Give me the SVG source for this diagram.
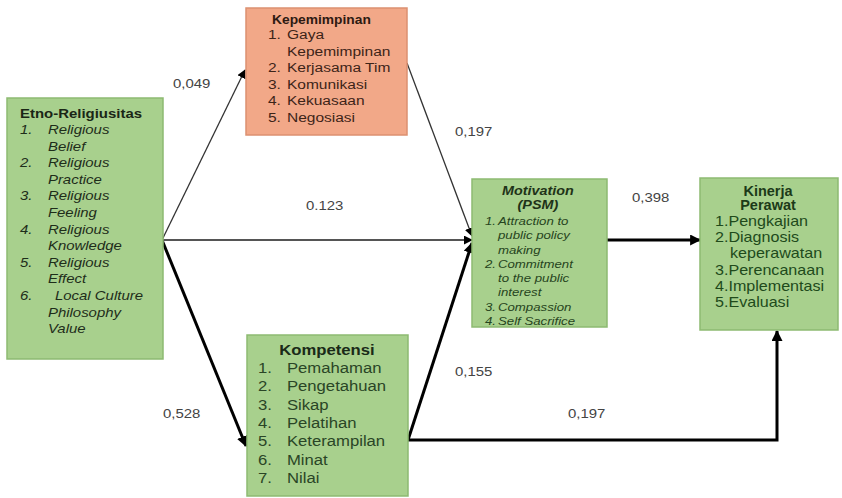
<svg xmlns="http://www.w3.org/2000/svg" width="842" height="498" viewBox="0 0 842 498">
  <style>
    text { font-family: "Liberation Sans", Arial, sans-serif; }
    .green { fill: #a8d08d; stroke: #8dba72; stroke-width: 1.5; }
    .orange { fill: #f2a888; stroke: #dc9070; stroke-width: 1.5; }
    .et { font-size: 13px; font-style: italic; fill: #1e2d1a; }
    .et-h { font-size: 13px; font-weight: bold; fill: #1a2616; }
    .kp { font-size: 13.5px; fill: #3d2418; }
    .kp-h { font-size: 12px; font-weight: bold; fill: #2e1a12; }
    .ko { font-size: 14.5px; fill: #2a4526; }
    .ko-h { font-size: 14.5px; font-weight: bold; fill: #1a2a18; }
    .mo { font-size: 11.5px; font-style: italic; fill: #264420; }
    .mo-h { font-size: 12.5px; font-style: italic; font-weight: bold; fill: #1f3318; }
    .ki { font-size: 14px; fill: #204a1b; }
    .ki-h { font-size: 14.5px; font-weight: bold; fill: #1c3a18; }
    .lbl { font-size: 13px; fill: #444; }
    .thin { stroke: #333; stroke-width: 1.3; fill: none; }
    .mid { stroke: #555; stroke-width: 1.8; fill: none; }
    .thick { stroke: #000; stroke-width: 3; fill: none; }
  </style>
  <defs>
    <marker id="ah" viewBox="0 0 10 10" refX="9" refY="5" markerWidth="9" markerHeight="9" markerUnits="userSpaceOnUse" orient="auto">
      <path d="M0,0 L10,5 L0,10 z" fill="#000"/>
    </marker>
    <marker id="ahb" viewBox="0 0 10 10" refX="9" refY="5" markerWidth="11" markerHeight="11" markerUnits="userSpaceOnUse" orient="auto">
      <path d="M0,0 L10,5 L0,10 z" fill="#000"/>
    </marker>
  </defs>
  <rect width="842" height="498" fill="#fff"/>

  <!-- connectors -->
  <g id="connectors">
    <line class="thin" x1="162" y1="240" x2="245" y2="70" marker-end="url(#ah)"/>
    <line class="mid" x1="162" y1="240" x2="472" y2="240" marker-end="url(#ah)"/>
    <line class="thick" x1="162" y1="240" x2="246" y2="446" marker-end="url(#ahb)"/>
    <line class="thin" x1="407" y1="63" x2="472" y2="236" marker-end="url(#ah)"/>
    <line class="thick" x1="408" y1="440" x2="472" y2="243" marker-end="url(#ahb)"/>
    <line class="thick" x1="607" y1="240" x2="700" y2="240" marker-end="url(#ahb)"/>
    <polyline class="thick" points="408,440 777,440 777,331" marker-end="url(#ahb)"/>

    <text class="lbl" transform="translate(173 87.5) scale(1.15 1)">0,049</text>
    <text class="lbl" transform="translate(455 136) scale(1.15 1)">0,197</text>
    <text class="lbl" transform="translate(306 209.5) scale(1.15 1)">0.123</text>
    <text class="lbl" transform="translate(632 201.5) scale(1.15 1)">0,398</text>
    <text class="lbl" transform="translate(455 375.5) scale(1.15 1)">0,155</text>
    <text class="lbl" transform="translate(568 417.5) scale(1.15 1)">0,197</text>
    <text class="lbl" transform="translate(163 417.5) scale(1.15 1)">0,528</text>
  </g>

  <!-- Etno-Religiusitas -->
  <g id="etno">
    <rect class="green" x="7" y="98" width="156" height="261"/>
    <g transform="translate(20 0) scale(1.15 1)">
      <text class="et-h" x="0" y="118">Etno-Religiusitas</text>
      <text class="et" x="0" y="134">1.</text>
      <text class="et" x="24.3" y="134">Religious</text>
      <text class="et" x="24.3" y="150.6">Belief</text>
      <text class="et" x="0" y="167.2">2.</text>
      <text class="et" x="24.3" y="167.2">Religious</text>
      <text class="et" x="24.3" y="183.8">Practice</text>
      <text class="et" x="0" y="200.4">3.</text>
      <text class="et" x="24.3" y="200.4">Religious</text>
      <text class="et" x="24.3" y="217">Feeling</text>
      <text class="et" x="0" y="233.6">4.</text>
      <text class="et" x="24.3" y="233.6">Religious</text>
      <text class="et" x="24.3" y="250.2">Knowledge</text>
      <text class="et" x="0" y="266.8">5.</text>
      <text class="et" x="24.3" y="266.8">Religious</text>
      <text class="et" x="24.3" y="283.4">Effect</text>
      <text class="et" x="0" y="300">6.</text>
      <text class="et" x="30.4" y="300">Local Culture</text>
      <text class="et" x="24.3" y="316.6">Philosophy</text>
      <text class="et" x="24.3" y="333.2">Value</text>
    </g>
  </g>

  <!-- Kepemimpinan -->
  <g id="kepemimpinan">
    <rect class="orange" x="246" y="8" width="161" height="127"/>
    <g transform="translate(268 0) scale(1.15 1)">
      <text class="kp-h" x="3.5" y="24">Kepemimpinan</text>
      <text class="kp" x="0" y="39.5">1.</text>
      <text class="kp" x="16.5" y="39.5">Gaya</text>
      <text class="kp" x="16.5" y="56">Kepemimpinan</text>
      <text class="kp" x="0" y="72.5">2.</text>
      <text class="kp" x="16.5" y="72.5">Kerjasama Tim</text>
      <text class="kp" x="0" y="89">3.</text>
      <text class="kp" x="16.5" y="89">Komunikasi</text>
      <text class="kp" x="0" y="105.5">4.</text>
      <text class="kp" x="16.5" y="105.5">Kekuasaan</text>
      <text class="kp" x="0" y="122">5.</text>
      <text class="kp" x="16.5" y="122">Negosiasi</text>
    </g>
  </g>

  <!-- Kompetensi -->
  <g id="kompetensi">
    <rect class="green" x="247" y="335" width="161" height="161"/>
    <g transform="translate(258 0) scale(1.15 1)">
      <text class="ko-h" x="60" y="355" text-anchor="middle">Kompetensi</text>
      <text class="ko" x="0" y="373">1.</text>
      <text class="ko" x="25.2" y="373">Pemahaman</text>
      <text class="ko" x="0" y="391.3">2.</text>
      <text class="ko" x="25.2" y="391.3">Pengetahuan</text>
      <text class="ko" x="0" y="409.7">3.</text>
      <text class="ko" x="25.2" y="409.7">Sikap</text>
      <text class="ko" x="0" y="428">4.</text>
      <text class="ko" x="25.2" y="428">Pelatihan</text>
      <text class="ko" x="0" y="446.3">5.</text>
      <text class="ko" x="25.2" y="446.3">Keterampilan</text>
      <text class="ko" x="0" y="464.7">6.</text>
      <text class="ko" x="25.2" y="464.7">Minat</text>
      <text class="ko" x="0" y="483">7.</text>
      <text class="ko" x="25.2" y="483">Nilai</text>
    </g>
  </g>

  <!-- Motivation (PSM) -->
  <g id="motivation">
    <rect class="green" x="472" y="179" width="135" height="148"/>
    <g transform="translate(485 0) scale(1.15 1)">
      <text class="mo-h" x="46" y="195" text-anchor="middle">Motivation</text>
      <text class="mo-h" x="46" y="209.5" text-anchor="middle">(PSM)</text>
      <text class="mo" x="0" y="225">1.</text>
      <text class="mo" x="11.3" y="225">Attraction to</text>
      <text class="mo" x="11.3" y="239.3">public policy</text>
      <text class="mo" x="11.3" y="253.6">making</text>
      <text class="mo" x="0" y="267.9">2.</text>
      <text class="mo" x="11.3" y="267.9">Commitment</text>
      <text class="mo" x="11.3" y="282.1">to the public</text>
      <text class="mo" x="11.3" y="296.4">interest</text>
      <text class="mo" x="0" y="310.7">3.</text>
      <text class="mo" x="11.3" y="310.7">Compassion</text>
      <text class="mo" x="0" y="325">4.</text>
      <text class="mo" x="11.3" y="325">Self Sacrifice</text>
    </g>
  </g>

  <!-- Kinerja Perawat -->
  <g id="kinerja">
    <rect class="green" x="700" y="178" width="138" height="152"/>
    <text class="ki-h" x="768" y="195.5" text-anchor="middle">Kinerja</text>
    <text class="ki-h" x="768" y="210" text-anchor="middle">Perawat</text>
    <g transform="translate(715 0) scale(1.15 1)">
      <text class="ki" x="0" y="226">1.Pengkajian</text>
      <text class="ki" x="0" y="242.2">2.Diagnosis</text>
      <text class="ki" x="13" y="258.4">keperawatan</text>
      <text class="ki" x="0" y="274.6">3.Perencanaan</text>
      <text class="ki" x="0" y="290.8">4.Implementasi</text>
      <text class="ki" x="0" y="307">5.Evaluasi</text>
    </g>
  </g>
</svg>
